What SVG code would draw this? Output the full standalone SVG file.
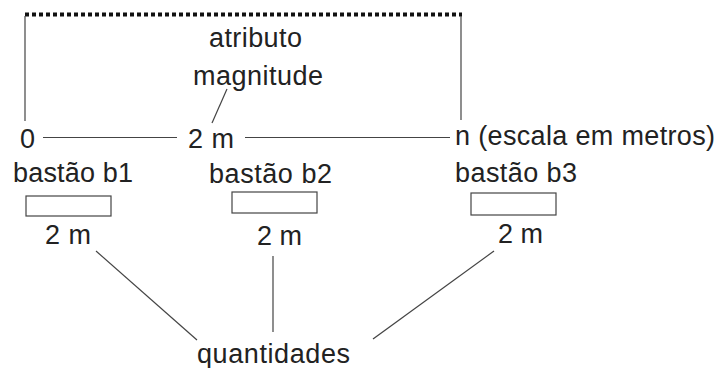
<svg xmlns="http://www.w3.org/2000/svg" width="720" height="368" viewBox="0 0 720 368">
<style>
text{font-family:"Liberation Sans",Arial,sans-serif;font-size:27px;fill:#222}
.ln{stroke:#444;stroke-width:1.2;fill:none}
.box{fill:#fff;stroke:#444;stroke-width:1.2}
</style>
<rect width="720" height="368" fill="#fff"/>
<g id="connectors">
<line x1="25" y1="14.5" x2="462" y2="14.5" stroke="#111" stroke-width="4" stroke-dasharray="4 3"/>
<line class="ln" x1="25" y1="16" x2="25" y2="121"/>
<line class="ln" x1="461" y1="16" x2="461" y2="120"/>
<line class="ln" x1="227" y1="89" x2="212" y2="123"/>
<line class="ln" x1="43" y1="137.5" x2="177" y2="137.5"/>
<line class="ln" x1="245" y1="137.5" x2="450" y2="137.5"/>
<line class="ln" x1="96" y1="251" x2="197" y2="340"/>
<line class="ln" x1="273" y1="256" x2="273" y2="332"/>
<line class="ln" x1="494" y1="251" x2="373" y2="339"/>
</g>
<g id="atributo"><text x="209" y="47" textLength="93" lengthAdjust="spacing">atributo</text></g>
<g id="magnitude"><text x="193" y="85" textLength="130" lengthAdjust="spacing">magnitude</text></g>
<g id="zero"><text x="20" y="148">0</text></g>
<g id="dois-m"><text x="188" y="148" textLength="46" lengthAdjust="spacing">2 m</text></g>
<g id="n-escala"><text x="455" y="145" textLength="260" lengthAdjust="spacing">n (escala em metros)</text></g>
<g id="b1">
<text x="13" y="182" textLength="120" lengthAdjust="spacing">bastão b1</text>
<rect class="box" x="26" y="196" width="85" height="20"/>
<text x="45" y="244" textLength="46" lengthAdjust="spacing">2 m</text>
</g>
<g id="b2">
<text x="209" y="183" textLength="123" lengthAdjust="spacing">bastão b2</text>
<rect class="box" x="232" y="192" width="85" height="21"/>
<text x="257" y="245" textLength="45" lengthAdjust="spacing">2 m</text>
</g>
<g id="b3">
<text x="455" y="182" textLength="122" lengthAdjust="spacing">bastão b3</text>
<rect class="box" x="471" y="193" width="85" height="22"/>
<text x="498" y="243" textLength="45" lengthAdjust="spacing">2 m</text>
</g>
<g id="quantidades"><text x="197" y="363" textLength="153" lengthAdjust="spacing">quantidades</text></g>
</svg>
